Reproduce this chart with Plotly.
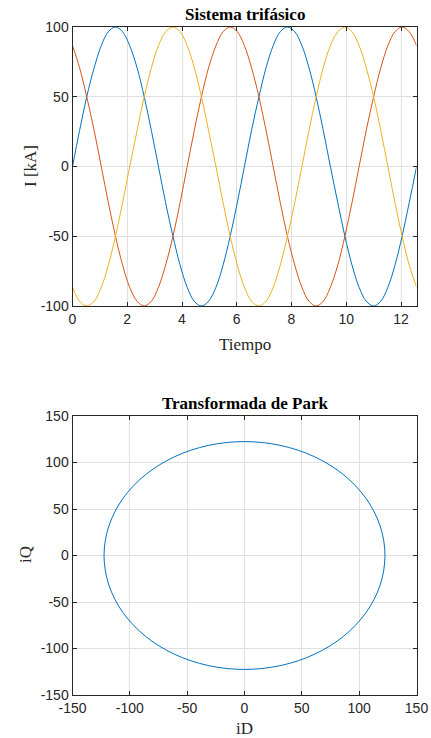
import plotly.graph_objects as go

# --- Data ---
tiempo = [0, 0.26, 0.52, 0.79, 1.05, 1.31, 1.57, 1.83, 2.09, 2.36, 2.62, 2.88, 3.14,
          3.40, 3.67, 3.93, 4.19, 4.45, 4.71, 4.97, 5.24, 5.50, 5.76, 6.02, 6.28,
          6.54, 6.81, 7.07, 7.33, 7.59, 7.85, 8.12, 8.38, 8.64, 8.90, 9.16, 9.42,
          9.69, 9.95, 10.21, 10.47, 10.73, 11.00, 11.26, 11.52, 11.78, 12.04, 12.30, 12.57]

fase_a = [0, 25.9, 50.0, 70.7, 86.6, 96.6, 100, 96.6, 86.6, 70.7, 50.0, 25.9,
          0, -25.9, -50.0, -70.7, -86.6, -96.6, -100, -96.6, -86.6, -70.7, -50.0, -25.9,
          0, 25.9, 50.0, 70.7, 86.6, 96.6, 100, 96.6, 86.6, 70.7, 50.0, 25.9,
          0, -25.9, -50.0, -70.7, -86.6, -96.6, -100, -96.6, -86.6, -70.7, -50.0, -25.9, 0]

fase_b = [86.6, 70.7, 50.0, 25.9, 0, -25.9, -50.0, -70.7, -86.6, -96.6, -100, -96.6,
          -86.6, -70.7, -50.0, -25.9, 0, 25.9, 50.0, 70.7, 86.6, 96.6, 100, 96.6,
          86.6, 70.7, 50.0, 25.9, 0, -25.9, -50.0, -70.7, -86.6, -96.6, -100, -96.6,
          -86.6, -70.7, -50.0, -25.9, 0, 25.9, 50.0, 70.7, 86.6, 96.6, 100, 96.6, 86.6]

fase_c = [-86.6, -96.6, -100, -96.6, -86.6, -70.7, -50.0, -25.9, 0, 25.9, 50.0, 70.7,
          86.6, 96.6, 100, 96.6, 86.6, 70.7, 50.0, 25.9, 0, -25.9, -50.0, -70.7,
          -86.6, -96.6, -100, -96.6, -86.6, -70.7, -50.0, -25.9, 0, 25.9, 50.0, 70.7,
          86.6, 96.6, 100, 96.6, 86.6, 70.7, 50.0, 25.9, 0, -25.9, -50.0, -70.7, -86.6]

iD = [122.5, 118.3, 106.1, 86.6, 61.2, 31.7, 0, -31.7, -61.2, -86.6, -106.1, -118.3,
      -122.5, -118.3, -106.1, -86.6, -61.2, -31.7, 0, 31.7, 61.2, 86.6, 106.1, 118.3, 122.5]
iQ = [0, 31.7, 61.2, 86.6, 106.1, 118.3, 122.5, 118.3, 106.1, 86.6, 61.2, 31.7,
      0, -31.7, -61.2, -86.6, -106.1, -118.3, -122.5, -118.3, -106.1, -86.6, -61.2, -31.7, 0]

ticks_t = [0, 2, 4, 6, 8, 10, 12]
ticks_i = [-100, -50, 0, 50, 100]
ticks_park = [-150, -100, -50, 0, 50, 100, 150]

COL = ["#0072BD", "#D95319", "#EDB120"]
AX = "#262626"
GRID = "#e0e0e0"
SERIF = "Liberation Serif, Times New Roman, serif"
SANS = "Liberation Sans, Arial, sans-serif"

fig = go.Figure()
for y, c in zip([fase_a, fase_b, fase_c], COL):
    fig.add_trace(go.Scatter(x=tiempo, y=y, mode="lines", line=dict(color=c, width=1, shape="spline"),
                             xaxis="x", yaxis="y", showlegend=False))
fig.add_trace(go.Scatter(x=iD, y=iQ, mode="lines", line=dict(color=COL[0], width=1, shape="spline"),
                         xaxis="x2", yaxis="y2", showlegend=False))

W, H = 431, 738
xd = [72.5 / W, 416.5 / W]
yd1 = [1 - 306 / H, 1 - 27 / H]
yd2 = [1 - 695 / H, 1 - 416 / H]

def ax(vals, **kw):
    d = dict(showline=True, linecolor=AX, linewidth=1, mirror="allticks", ticks="inside",
             ticklen=4, tickcolor=AX, showgrid=True, gridcolor=GRID, gridwidth=1,
             zeroline=False, automargin=False, tickvals=vals, ticktext=[str(v) for v in vals],
             tickfont=dict(family=SANS, size=14, color=AX))
    d.update(kw)
    return d

fig.update_layout(
    template="none",
    width=W, height=H, margin=dict(l=0, r=0, t=0, b=0),
    paper_bgcolor="white", plot_bgcolor="white",
    xaxis=ax(ticks_t, domain=xd, range=[0, 12.566], anchor="y"),
    yaxis=ax(ticks_i, domain=yd1, range=[-100, 100], anchor="x"),
    xaxis2=ax(ticks_park, domain=xd, range=[-150, 150], anchor="y2"),
    yaxis2=ax(ticks_park, domain=yd2, range=[-150, 150], anchor="x2"),
)

def ann(text, x, y, size, bold=False, angle=0):
    fig.add_annotation(text=f"<b>{text}</b>" if bold else text, x=x / W, y=1 - y / H,
                       xref="paper", yref="paper", showarrow=False, textangle=angle,
                       xanchor="center", yanchor="middle",
                       font=dict(family=SERIF, size=size, color="#000000" if bold else AX))

ann("Sistema trifásico", 244.5, 15, 17, bold=True)
ann("Tiempo", 244.5, 344, 17)
ann("I [kA]", 30, 166, 17, angle=-90)
ann("Transformada de Park", 244.5, 403, 17, bold=True)
ann("iD", 244.5, 728, 17)
ann("iQ", 25, 555, 17, angle=-90)

fig.write_html("out.html")
